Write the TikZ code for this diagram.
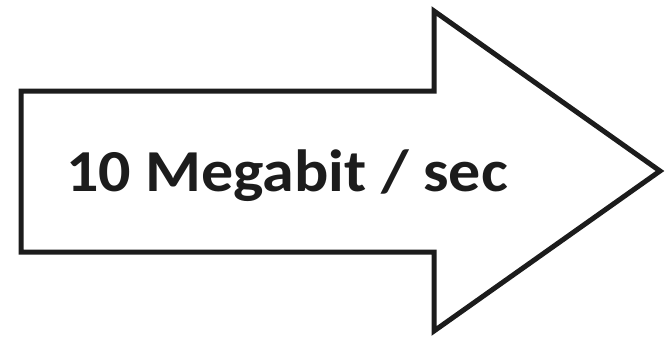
\documentclass[tikz,border=0pt]{standalone}
\usepackage{fontspec}
\setmainfont{Carlito}
\definecolor{ink}{HTML}{1C1C1C}
\begin{document}
\begin{tikzpicture}[x=1pt,y=-1pt,
  outline/.style={draw=ink,line width=5pt,fill=white,line join=miter,miter limit=10},
  label/.style={font=\bfseries\fontsize{64}{64}\selectfont,text=ink,inner sep=0pt,anchor=base west,yscale=0.93}]
  \useasboundingbox (0,0) rectangle (672,337);
  % block arrow outline
  \draw[outline] (21,91) -- (434,91) -- (434,11) -- (660,171)
    -- (434,331) -- (434,252) -- (21,252) -- cycle;
  \node[label] (rate) at (66,191) {10 Megabit / sec};
\end{tikzpicture}
\end{document}
